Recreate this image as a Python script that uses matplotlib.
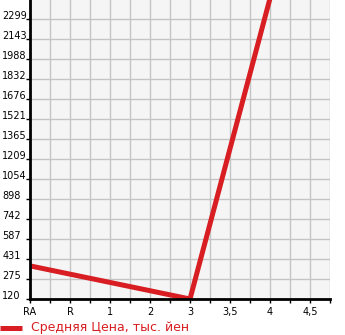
import matplotlib.pyplot as plt
import numpy as np
from matplotlib.lines import Line2D

categories = ["RA", "R", "1", "2", "3", "3,5", "4", "4,5"]
yticks = [120, 275, 431, 587, 742, 898, 1054, 1209, 1365, 1521, 1676, 1832, 1988, 2143, 2299]
line_cats = ["RA", "3", "4"]
line_vals = [378, 120, 2460]
series_name = "Средняя Цена, тыс. йен"

red = "#d81e22"
W, H = 345, 335

fig = plt.figure(figsize=(3.45, 3.35), dpi=100)
ax = fig.add_axes([30/W, 36/H, 300/W, 299/H])
ax.set_facecolor("#f5f5f5")

xpos = [categories.index(c) for c in line_cats]
ax.plot(xpos, line_vals, color=red, lw=3.6, solid_capstyle="butt")

ax.set_xlim(0, 7.5)
ax.set_ylim(120, 120 + 299/20*155.7)
ax.set_xticks(range(len(categories)))
ax.set_xticklabels(categories)
ax.set_xticks(np.arange(0.5, 7.6, 1), minor=True)
ax.set_yticks(yticks)
ax.set_yticklabels([str(v) for v in yticks])

ax.grid(True, which="both", color="#c4c4c4", lw=1)
ax.set_axisbelow(True)
for s in ["top", "right"]:
    ax.spines[s].set_visible(False)
for s in ["left", "bottom"]:
    ax.spines[s].set_linewidth(2)
    ax.spines[s].set_color("black")

ax.tick_params(axis="both", which="both", length=3, width=1, color="black",
               labelsize=7, direction="out")
ax.tick_params(axis="y", pad=17)
for t in ax.get_yticklabels():
    t.set_horizontalalignment("left")
    t.set_verticalalignment("baseline")
ax.tick_params(axis="x", pad=2.5)

# legend drawn by hand at the bottom
ly = 1 - 328/H
fig.add_artist(Line2D([0, 22/W], [ly, ly], color=red, lw=3.6,
                      solid_capstyle="butt", transform=fig.transFigure))
fig.text(31/W, ly, series_name, color=red, fontsize=9, va="center", ha="left")

fig.savefig("out.png", dpi=100)
